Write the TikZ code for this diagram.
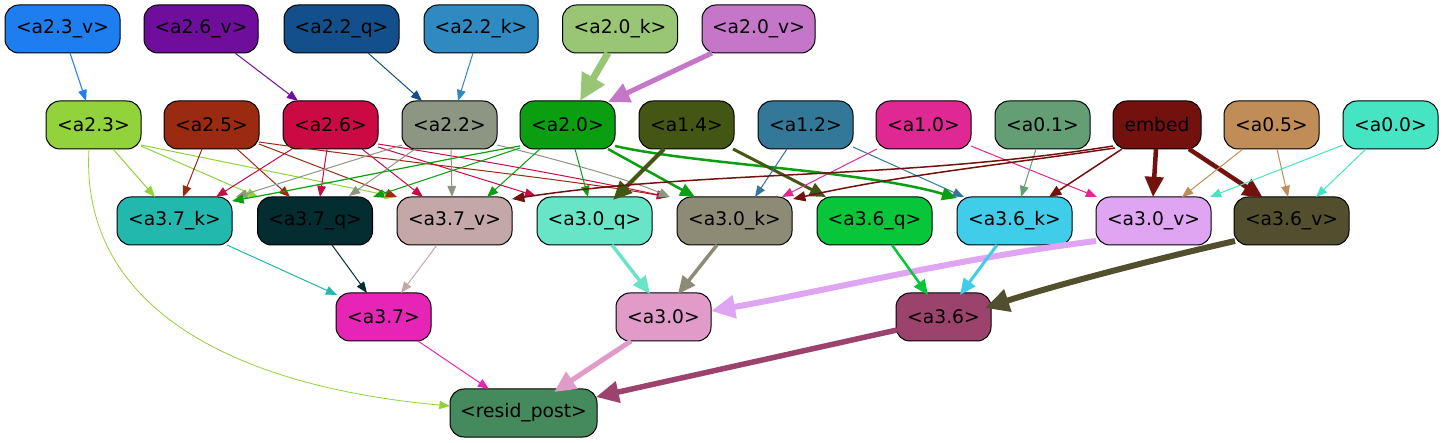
\documentclass[tikz,border=0pt]{standalone}
\usepackage{fontspec}
\setmainfont{DejaVu Sans}
\usetikzlibrary{arrows.meta,calc}
\definecolor{c23v}{HTML}{1E7EF0}
\definecolor{c26v}{HTML}{6F0E9C}
\definecolor{c22q}{HTML}{134F8A}
\definecolor{c22k}{HTML}{2E8AC1}
\definecolor{c20k}{HTML}{98C674}
\definecolor{c20v}{HTML}{C676C9}
\definecolor{c23}{HTML}{92D23B}
\definecolor{c25}{HTML}{9A2B10}
\definecolor{c26}{HTML}{CB0A44}
\definecolor{c22}{HTML}{8D9583}
\definecolor{c20}{HTML}{0B9E11}
\definecolor{c14}{HTML}{445614}
\definecolor{c12}{HTML}{347899}
\definecolor{c10}{HTML}{E02893}
\definecolor{c01}{HTML}{639E74}
\definecolor{cemb}{HTML}{73110F}
\definecolor{c05}{HTML}{C08C58}
\definecolor{c00}{HTML}{45E5C3}
\definecolor{c37k}{HTML}{22B8AE}
\definecolor{c37q}{HTML}{032D31}
\definecolor{c37v}{HTML}{C4A8A7}
\definecolor{c30q}{HTML}{68E5C7}
\definecolor{c30k}{HTML}{8D8B76}
\definecolor{c36q}{HTML}{07C63A}
\definecolor{c36k}{HTML}{3FCDEA}
\definecolor{c30v}{HTML}{E0A5F2}
\definecolor{c36v}{HTML}{524F2E}
\definecolor{c37}{HTML}{E625B6}
\definecolor{c30}{HTML}{E09BC9}
\definecolor{c36}{HTML}{9C436D}
\definecolor{cres}{HTML}{458A5C}
\newcommand{\nd}[6]{\node[nbox,minimum width=#4pt,fill=#5] (#1) at (#2,#3) {#6};}
\newcommand{\ed}[8]{\draw[e,draw=#7,line width=#8pt] ($(#1)+(#2)$) -- ($(#4)+(#5)$);}
\begin{document}
\begin{tikzpicture}[x=1pt,y=-1pt,
  nbox/.style={draw=black,line width=1pt,rounded corners=14pt,minimum height=48pt,inner sep=0pt,text=black,font=\fontsize{18.7}{22}\selectfont},
  e/.style={-{Triangle[length=8.5pt 2.6,width=6pt 2.7]}}]
\useasboundingbox (0,0) rectangle (1443,443);
% top row
\nd{a23v}{62.5}{29}{115}{c23v}{<a2.3\_v>}
\nd{a26v}{201}{29}{114}{c26v}{<a2.6\_v>}
\nd{a22q}{341.5}{29}{115}{c22q}{<a2.2\_q>}
\nd{a22k}{481}{29}{114}{c22k}{<a2.2\_k>}
\nd{a20k}{620}{29}{115}{c20k}{<a2.0\_k>}
\nd{a20v}{758.5}{29}{113}{c20v}{<a2.0\_v>}
% row 2
\nd{a23}{93.5}{125}{95}{c23}{<a2.3>}
\nd{a25}{211.5}{125}{95}{c25}{<a2.5>}
\nd{a26}{330.5}{125}{95}{c26}{<a2.6>}
\nd{a22}{449.5}{125}{95}{c22}{<a2.2>}
\nd{a20}{567.5}{125}{95}{c20}{<a2.0>}
\nd{a14}{686.5}{125}{95}{c14}{<a1.4>}
\nd{a12}{805.5}{125}{95}{c12}{<a1.2>}
\nd{a10}{923.5}{125}{95}{c10}{<a1.0>}
\nd{a01}{1042.5}{125}{95}{c01}{<a0.1>}
\nd{embed}{1157}{125}{88}{cemb}{embed}
\nd{a05}{1271.5}{125}{95}{c05}{<a0.5>}
\nd{a00}{1390.5}{125}{95}{c00}{<a0.0>}
% row 3
\nd{a37k}{174.5}{221}{115}{c37k}{<a3.7\_k>}
\nd{a37q}{315}{221}{115}{c37q}{<a3.7\_q>}
\nd{a37v}{454.5}{221}{115}{c37v}{<a3.7\_v>}
\nd{a30q}{594.5}{221}{115}{c30q}{<a3.0\_q>}
\nd{a30k}{734.5}{221}{115}{c30k}{<a3.0\_k>}
\nd{a36q}{874.5}{221}{115}{c36q}{<a3.6\_q>}
\nd{a36k}{1014.5}{221}{115}{c36k}{<a3.6\_k>}
\nd{a30v}{1153.5}{221}{115}{c30v}{<a3.0\_v>}
\nd{a36v}{1291.5}{221}{115}{c36v}{<a3.6\_v>}
% row 4
\nd{a37}{383.5}{317}{95}{c37}{<a3.7>}
\nd{a30}{663.5}{317}{95}{c30}{<a3.0>}
\nd{a36}{943.5}{317}{95}{c36}{<a3.6>}
\nd{resid}{523.5}{413}{147}{cres}{<resid\_post>}
% top -> row 2
\ed{a23v}{7.5,24}{}{a23}{-7.5,-24}{}{c23v}{1}
\ed{a26v}{34,24}{}{a26}{-32.5,-24}{}{c26v}{1}
\ed{a22q}{26.5,24}{}{a22}{-27.5,-24}{}{c22q}{1}
\ed{a22k}{-8,24}{}{a22}{8.5,-24}{}{c22k}{1}
\ed{a20k}{-12,24}{}{a20}{12.5,-24}{}{c20k}{7}
\ed{a20v}{-46.5,24}{}{a20}{40.5,-23}{}{c20v}{5}
% a2.3
\ed{a23}{19.5,24}{}{a37k}{-19.5,-24}{}{c23}{1}
\ed{a23}{47.5,21}{}{a37q}{-57,-24}{}{c23}{1}
\ed{a23}{47.5,20}{}{a37v}{-58.5,-24}{}{c23}{1}
\draw[e,draw=c23,line width=0.8pt] ($(a23)+(-4.5,24)$) .. controls (80,300) and (220,385) .. ($(resid)+(-73.5,-7)$);
% a2.5
\ed{a25}{-9.5,24}{}{a37k}{8.5,-24}{}{c25}{1}
\ed{a25}{25.5,24}{}{a37q}{-25,-24}{}{c25}{1}
\ed{a25}{47.5,19}{}{a37v}{-57.5,-24}{}{c25}{1}
\draw[e,draw=c25,line width=1pt] ($(a25)+(47.5,17)$) .. controls (400,162) and (560,178) .. ($(a30k)+(-66.5,-24)$);
% a2.6
\ed{a26}{-38.5,24}{}{a37k}{41.5,-24}{}{c26}{1}
\ed{a26}{-3.5,24}{}{a37q}{5,-24}{}{c26}{1}
\ed{a26}{31.5,24}{}{a37v}{-31.5,-24}{}{c26}{1}
\ed{a26}{47.5,22}{}{a30q}{-58.5,-25}{}{c26}{1}
\draw[e,draw=c26,line width=1pt] ($(a26)+(47.5,19)$) .. controls (480,160) and (580,178) .. ($(a30k)+(-66.5,-24)$);
% a2.2
\ed{a22}{-47.5,20}{}{a37k}{61.5,-24}{}{c22}{1}
\ed{a22}{-34.5,24}{}{a37q}{34,-25}{}{c22}{1}
\ed{a22}{1.5,24}{}{a37v}{-2.5,-24}{}{c22}{1}
\draw[e,draw=c22,line width=1pt] ($(a22)+(47.5,20)$) .. controls (560,160) and (630,180) .. ($(a30k)+(-64.5,-24)$);
% a2.0
\draw[e,draw=c20,line width=1.2pt] ($(a20)+(-47.5,21)$) .. controls (430,162) and (320,185) .. ($(a37k)+(57.5,-20)$);
\ed{a20}{-47.5,23}{}{a37q}{58,-24}{}{c20}{1}
\ed{a20}{-27.5,24}{}{a37v}{32.5,-24}{}{c20}{1}
\ed{a20}{7.5,24}{}{a30q}{-6.5,-24}{}{c20}{1}
\ed{a20}{40.5,24}{}{a30k}{-39.5,-24}{}{c20}{2.5}
\draw[e,draw=c20,line width=2.5pt] ($(a20)+(47.5,21)$) .. controls (700,165) and (860,170) .. ($(a36k)+(-57.5,-23)$);
% a1.4
\ed{a14}{-22.5,24}{}{a30q}{18.5,-21}{}{c14}{4}
\ed{a14}{46.5,24}{}{a36q}{-48.5,-24}{}{c14}{3}
% a1.2
\ed{a12}{-18.5,24}{}{a30k}{20.5,-24}{}{c12}{1}
\ed{a12}{47.5,22}{}{a36k}{-50.5,-24}{}{c12}{1}
% a1.0
\ed{a10}{-46.5,24}{}{a30k}{47.5,-24}{}{c10}{1}
\ed{a10}{47.5,21}{}{a30v}{-56.5,-24}{}{c10}{1}
% a0.1
\ed{a01}{-6.5,24}{}{a36k}{6.5,-24}{}{c01}{1}
% embed
\draw[e,draw=cemb,line width=1.5pt] ($(embed)+(-44,21)$) .. controls (900,180) and (700,170) .. ($(a37v)+(57.5,-22)$);
\draw[e,draw=cemb,line width=1.5pt] ($(embed)+(-42,23)$) .. controls (1000,165) and (900,175) .. ($(a30k)+(58.5,-22)$);
\ed{embed}{-35,24}{}{a36k}{34.5,-24}{}{cemb}{1.5}
\ed{embed}{-1,24}{}{a30v}{-0.5,-24}{}{cemb}{4.5}
\ed{embed}{32,24}{}{a36v}{-28.5,-23}{}{cemb}{4.5}
% a0.5
\ed{a05}{-28.5,24}{}{a30v}{28.5,-24}{}{c05}{1}
\ed{a05}{5.5,24}{}{a36v}{-3.5,-24}{}{c05}{1}
% a0.0
\ed{a00}{-47.5,20}{}{a30v}{56.5,-24}{}{c00}{1}
\ed{a00}{-24.5,24}{}{a36v}{24.5,-24}{}{c00}{1}
% row 3 -> row 4
\ed{a37k}{52.5,24}{}{a37}{-46.5,-22}{}{c37k}{1}
\ed{a37q}{17,24}{}{a37}{-16.5,-24}{}{c37q}{1}
\ed{a37v}{-17.5,24}{}{a37}{17.5,-24}{}{c37v}{1}
\ed{a30q}{17.5,24}{}{a30}{-13.5,-23}{}{c30q}{3.5}
\ed{a30k}{-17.5,24}{}{a30}{14.5,-23}{}{c30k}{3.5}
\draw[e,draw=c30v,line width=6pt] ($(a30v)+(-57.5,20)$) .. controls (960,258) and (820,292) .. ($(a30)+(47.5,-6)$);
\ed{a36q}{17.5,24}{}{a36}{-15.5,-22}{}{c36q}{2.5}
\ed{a36k}{-17.5,24}{}{a36}{16.5,-22}{}{c36k}{3}
\draw[e,draw=c36v,line width=6pt] ($(a36v)+(-56.5,20)$) .. controls (1130,265) and (1040,290) .. ($(a36)+(41.5,-9)$);
% row 4 -> resid
\ed{a37}{34.5,24}{}{resid}{-34.5,-24}{}{c37}{1}
\ed{a30}{-32.5,24}{}{resid}{30.5,-21}{}{c30}{5}
\ed{a36}{-46.5,13}{}{resid}{72.5,-16}{}{c36}{5.5}
\end{tikzpicture}
\end{document}
